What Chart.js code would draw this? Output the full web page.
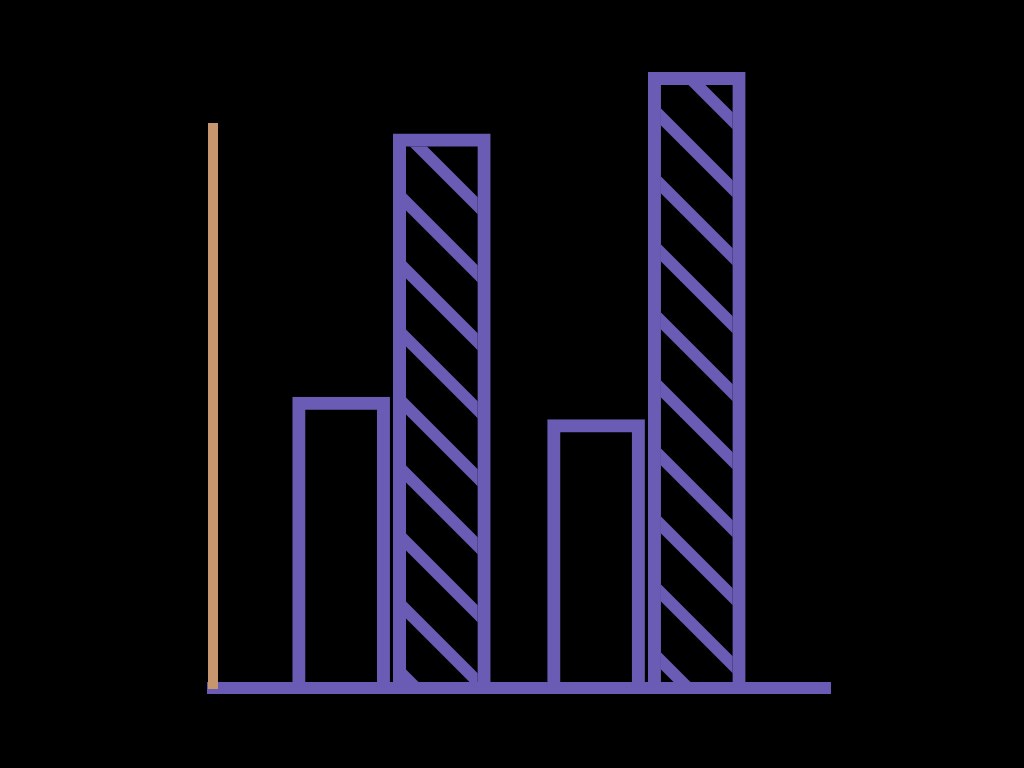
<!DOCTYPE html>
<html>
<head>
<meta charset="utf-8">
<style>
  html, body { margin: 0; padding: 0; background: #000; }
  #wrap { width: 1024px; height: 768px; }
</style>
<script src="https://cdn.jsdelivr.net/npm/chart.js@4/dist/chart.umd.min.js"></script>
</head>
<body>
<div id="wrap"><canvas id="c" width="1024" height="768"></canvas></div>
<script>
// ---- data ----
const categories = ['Group 1', 'Group 2'];
const categoryX = [1, 2];
const plainValues = [52, 48];
const hatchedValues = [99, 110];

const PURPLE = '#6a5cb4';
const TAN = '#c8966e';

function makeHatch() {
  const s = 68;
  const c = document.createElement('canvas');
  c.width = s; c.height = s;
  const g = c.getContext('2d');
  g.strokeStyle = PURPLE;
  g.lineWidth = 12;
  g.lineCap = 'square';
  for (const x0 of [-s, 0, s]) {
    g.beginPath();
    g.moveTo(x0 - 10, -10);
    g.lineTo(x0 + s + 10, s + 10);
    g.stroke();
  }
  return g.createPattern(c, 'repeat');
}

const bgPlugin = {
  id: 'bg',
  beforeDraw(chart) {
    const ctx = chart.ctx;
    ctx.save();
    ctx.fillStyle = '#000';
    ctx.fillRect(0, 0, chart.width, chart.height);
    ctx.restore();
  }
};

new Chart(document.getElementById('c'), {
  type: 'bar',
  data: {
    labels: categories,
    datasets: [
      {
        label: 'Plain',
        data: categoryX.map((x, i) => ({ x, y: plainValues[i] })),
        backgroundColor: 'rgba(0,0,0,0)',
        borderColor: PURPLE,
        borderWidth: 13,
        borderSkipped: 'bottom',
        clip: false
      },
      {
        label: 'Hatched',
        data: categoryX.map((x, i) => ({ x, y: hatchedValues[i] })),
        backgroundColor: makeHatch(),
        borderColor: PURPLE,
        borderWidth: 13,
        borderSkipped: 'bottom',
        clip: false
      }
    ]
  },
  options: {
    responsive: false,
    animation: false,
    devicePixelRatio: 1,
    categoryPercentage: 0.79,
    barPercentage: 0.97,
    layout: { padding: { left: 213, right: 194, top: 128, bottom: 80 } },
    plugins: { legend: { display: false }, tooltip: { enabled: false } },
    scales: {
      x: {
        type: 'linear',
        offset: false,
        bounds: 'data',
        min: 0.3,
        max: 2.72,
        afterBuildTicks(scale) {
          scale.ticks = categoryX.map(v => ({ value: v }));
        },
        ticks: { display: false },
        grid: { display: false, drawTicks: false, offset: false },
        border: { display: true, color: PURPLE, width: 12 }
      },
      y: {
        min: 0,
        max: 100,
        ticks: { display: false },
        grid: { display: false, drawTicks: false },
        border: { display: true, color: TAN, width: 10 }
      }
    }
  },
  plugins: [bgPlugin]
});
</script>
</body>
</html>
